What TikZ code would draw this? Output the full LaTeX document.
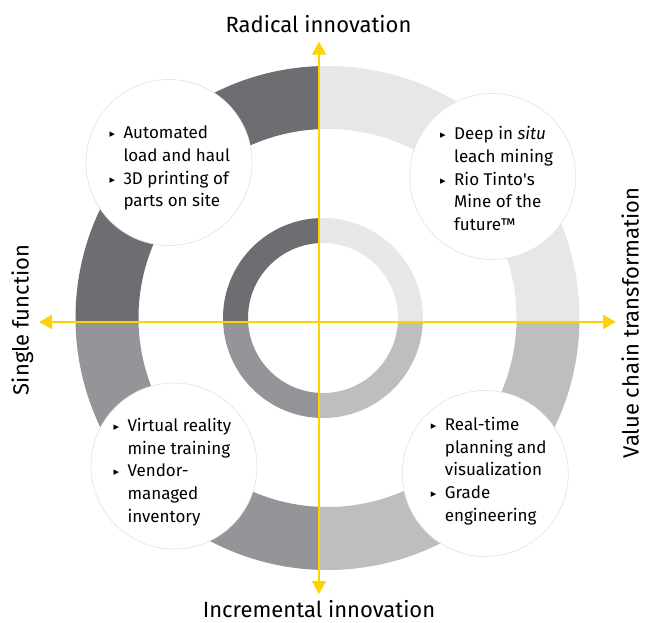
\documentclass[tikz,border=0pt]{standalone}
\usepackage{fontspec}
\setmainfont{Fira Sans}
\newfontfamily\symfont{DejaVu Sans}
\usetikzlibrary{arrows.meta}

\definecolor{axisYellow}{RGB}{255,210,0}
\definecolor{quadDark}{HTML}{6D6E71}
\definecolor{quadLight}{HTML}{E6E7E8}
\definecolor{quadMid}{HTML}{939598}
\definecolor{quadPale}{HTML}{BCBEC0}
\definecolor{bubbleLine}{HTML}{E2E2E2}

\newcommand{\blt}{\makebox[14pt][l]{\raisebox{1pt}{\symfont\fontsize{11}{11}\selectfont ▸}}}

\begin{document}
\begin{tikzpicture}[x=1pt, y=1pt,
    bubbleStyle/.style={circle, draw=bubbleLine, line width=0.6pt, fill=white, minimum size=166pt, inner sep=0pt},
    listStyle/.style={anchor=base west, inner sep=0pt, font=\fontsize{17}{22.6}\selectfont},
    axisStyle/.style={draw=axisYellow, line width=2pt, {Triangle[length=13pt,width=14pt,fill=axisYellow]}-{Triangle[length=13pt,width=14pt,fill=axisYellow]}},
    labelStyle/.style={anchor=base, inner sep=0pt, font=\fontsize{22}{26}\selectfont}]
    \useasboundingbox (0,0) rectangle (648,622);

    \coordinate (origin) at (319,300);
    \coordinate (outerC) at (327.5,304);
    \coordinate (innerC) at (323,304);

    % quadrant rings
    \begin{scope}
        \clip (0,300) rectangle (319,622);
        \fill[quadDark, even odd rule] (outerC) circle (252pt) (outerC) circle (189pt);
        \fill[quadDark, even odd rule] (innerC) circle (100pt) (innerC) circle (75pt);
    \end{scope}
    \begin{scope}
        \clip (319,300) rectangle (648,622);
        \fill[quadLight, even odd rule] (outerC) circle (252pt) (outerC) circle (189pt);
        \fill[quadLight, even odd rule] (innerC) circle (100pt) (innerC) circle (75pt);
    \end{scope}
    \begin{scope}
        \clip (0,0) rectangle (319,300);
        \fill[quadMid, even odd rule] (outerC) circle (252pt) (outerC) circle (189pt);
        \fill[quadMid, even odd rule] (innerC) circle (100pt) (innerC) circle (75pt);
    \end{scope}
    \begin{scope}
        \clip (319,0) rectangle (648,300);
        \fill[quadPale, even odd rule] (outerC) circle (252pt) (outerC) circle (189pt);
        \fill[quadPale, even odd rule] (innerC) circle (100pt) (innerC) circle (75pt);
    \end{scope}

    % bubbles
    \node[bubbleStyle] (bubbleTL) at (169,459.5) {};
    \node[bubbleStyle] (bubbleTR) at (492.7,445.5) {};
    \node[bubbleStyle] (bubbleBL) at (174,156) {};
    \node[bubbleStyle] (bubbleBR) at (485.3,148.5) {};

    % axes
    \coordinate (axisN) at (319,580.3);
    \coordinate (axisS) at (319,28);
    \coordinate (axisW) at (39,300);
    \coordinate (axisE) at (616,300);
    \draw[axisStyle] (axisS) -- (axisN);
    \draw[axisStyle] (axisW) -- (axisE);

    % bubble texts
    \node[listStyle] (textTL) at (109.3,483) {\begin{tabular}[t]{@{}l@{}l@{}}
        \blt & Automated\\ & load and haul\\ \blt & 3D printing of\\ & parts on site
    \end{tabular}};
    \node[listStyle] (textTR) at (440,482) {\begin{tabular}[t]{@{}l@{}l@{}}
        \blt & Deep in \textit{situ}\\ & leach mining\\ \blt & Rio Tinto\textquotesingle s\\ & Mine of the\\ & future™
    \end{tabular}};
    \node[listStyle] (textBL) at (113.3,190.3) {\begin{tabular}[t]{@{}l@{}l@{}}
        \blt & Virtual reality\\ & mine training\\ \blt & Vendor-\\ & managed\\ & inventory
    \end{tabular}};
    \node[listStyle] (textBR) at (430.7,191.3) {\begin{tabular}[t]{@{}l@{}l@{}}
        \blt & Real-time\\ & planning and\\ & visualization\\ \blt & Grade\\ & engineering
    \end{tabular}};

    % axis labels
    \node[labelStyle] (labelN) at (318.5,589) {Radical innovation};
    \node[labelStyle] (labelS) at (319,4.4) {Incremental innovation};
    \node[labelStyle, rotate=90] (labelW) at (28.5,302) {Single function};
    \node[labelStyle, rotate=90] (labelE) at (638.5,299) {Value chain transformation};
\end{tikzpicture}
\end{document}
